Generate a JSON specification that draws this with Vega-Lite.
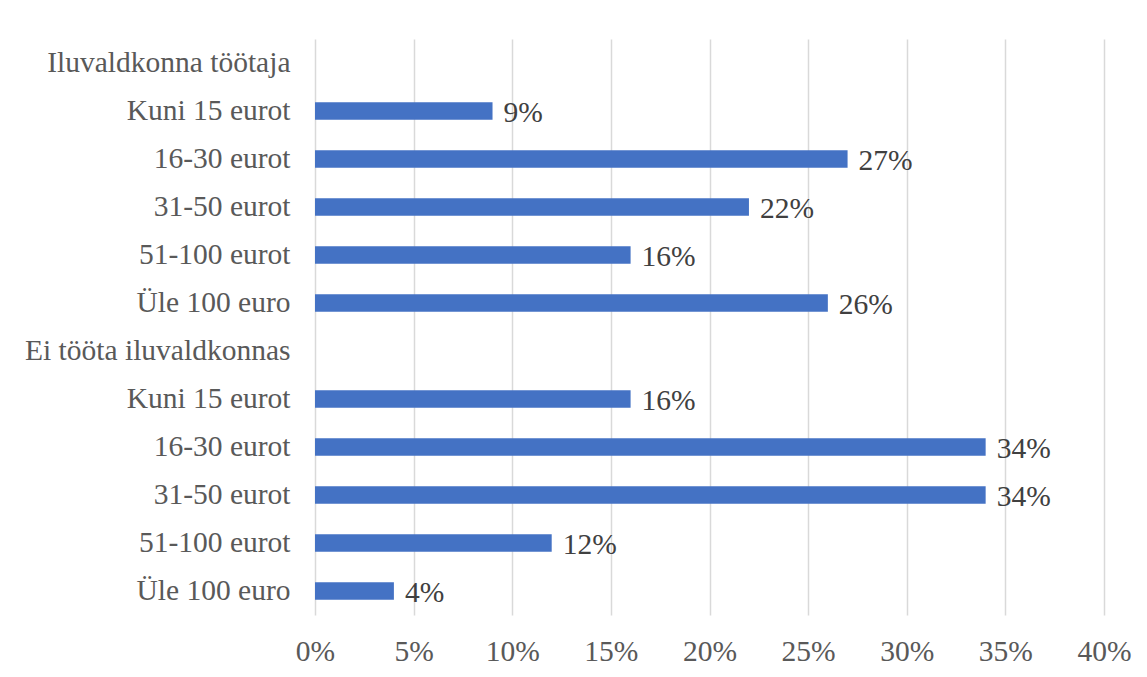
{
  "$schema": "https://vega.github.io/schema/vega-lite/v6.json",
  "width": 789,
  "height": 576,
  "autosize": {"type": "none"},
  "padding": {"left": 315, "top": 39, "right": 43, "bottom": 62},
  "background": "white",
  "config": {
    "view": {"stroke": null},
    "font": "Liberation Serif"
  },
  "data": {
    "values": [
      {"id": "01|Iluvaldkonna töötaja", "value": null, "label": ""},
      {"id": "02|Kuni 15 eurot", "value": 0.09, "label": "9%"},
      {"id": "03|16-30 eurot", "value": 0.27, "label": "27%"},
      {"id": "04|31-50 eurot", "value": 0.22, "label": "22%"},
      {"id": "05|51-100 eurot", "value": 0.16, "label": "16%"},
      {"id": "06|Üle 100 euro", "value": 0.26, "label": "26%"},
      {"id": "07|Ei tööta iluvaldkonnas", "value": null, "label": ""},
      {"id": "08|Kuni 15 eurot", "value": 0.16, "label": "16%"},
      {"id": "09|16-30 eurot", "value": 0.34, "label": "34%"},
      {"id": "10|31-50 eurot", "value": 0.34, "label": "34%"},
      {"id": "11|51-100 eurot", "value": 0.12, "label": "12%"},
      {"id": "12|Üle 100 euro", "value": 0.04, "label": "4%"}
    ]
  },
  "encoding": {
    "y": {
      "field": "id",
      "type": "nominal",
      "scale": {
        "domain": ["01|Iluvaldkonna töötaja", "02|Kuni 15 eurot", "03|16-30 eurot", "04|31-50 eurot", "05|51-100 eurot", "06|Üle 100 euro", "07|Ei tööta iluvaldkonnas", "08|Kuni 15 eurot", "09|16-30 eurot", "10|31-50 eurot", "11|51-100 eurot", "12|Üle 100 euro"],
        "paddingInner": 0.64,
        "paddingOuter": 0.32
      },
      "axis": {
        "title": null,
        "labelExpr": "split(datum.label, '|')[1]",
        "labelFont": "Liberation Serif",
        "labelFontSize": 29.5,
        "labelColor": "#595959",
        "labelPadding": 25,
        "ticks": false,
        "domain": false,
        "grid": false,
        "labelLimit": 400
      }
    },
    "x": {
      "field": "value",
      "type": "quantitative",
      "scale": {"domain": [0, 0.4], "nice": false},
      "axis": {
        "title": null,
        "format": ".0%",
        "values": [0, 0.05, 0.1, 0.15, 0.2, 0.25, 0.3, 0.35, 0.4],
        "labelFont": "Liberation Serif",
        "labelFontSize": 29.5,
        "labelColor": "#595959",
        "labelPadding": 22,
        "labelFlush": false,
        "labelOverlap": false,
        "ticks": false,
        "domain": false,
        "grid": true,
        "gridColor": "#d9d9d9",
        "gridWidth": 1.5
      }
    }
  },
  "layer": [
    {
      "mark": {"type": "bar", "color": "#4472C4"}
    },
    {
      "mark": {"type": "text", "align": "left", "baseline": "middle", "dx": 11, "dy": 2, "font": "Liberation Serif", "fontSize": 29.5, "color": "#404040"},
      "encoding": {"text": {"field": "label"}}
    }
  ]
}
